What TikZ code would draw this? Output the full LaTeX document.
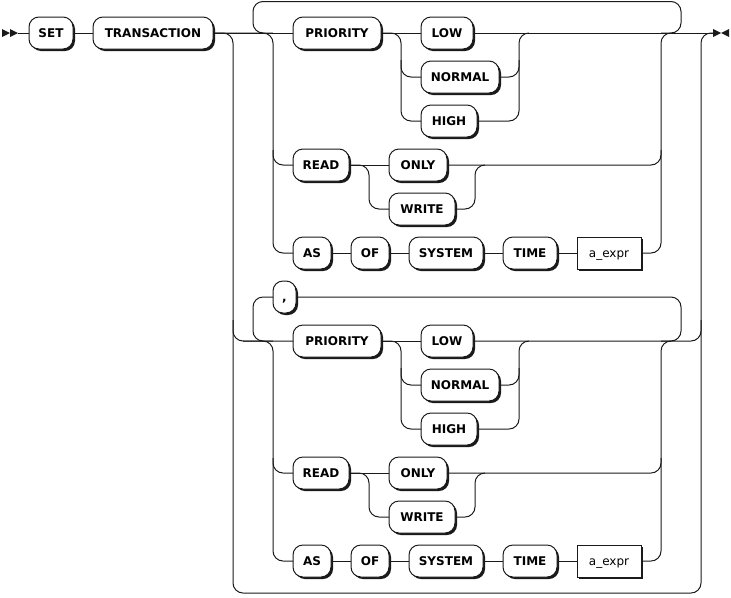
\documentclass[tikz,border=0pt]{standalone}
\usepackage{fontspec}
\newfontfamily\rrfam{DejaVu Sans}
\usetikzlibrary{shadows}
\definecolor{lc}{HTML}{1A1A1A}
\newcommand\rrbold{\rrfam\bfseries\fontsize{9pt}{11pt}\selectfont}
\newcommand\rrreg{\rrfam\fontsize{9pt}{11pt}\selectfont}
\tikzset{
  term/.style={draw=lc, line width=0.75pt, fill=white, rounded corners=7.5pt,
    minimum height=24pt, inner sep=0pt, outer sep=0pt, anchor=west,
    text height=6.5pt, text depth=0pt, font=\rrbold,
    general shadow={fill=lc, shadow xshift=1.5pt, shadow yshift=-1.5pt}},
  nonterm/.style={term, sharp corners, font=\rrreg},
  bw/.style={minimum width=#1*0.75pt},
  conn/.style={line width=0.75pt, draw=lc, rounded corners=7.5pt},
  marker/.style={fill=lc, draw=none},
}
\begin{document}
\begin{tikzpicture}[x=0.75pt,y=-0.75pt]
\useasboundingbox (0,0) rectangle (731,597);
% start / end markers
\fill[marker] (2,29) -- (10,33) -- (2,37) -- cycle;
\fill[marker] (10,29) -- (18,33) -- (10,37) -- cycle;
\coordinate (st) at (18,33);
\fill[marker] (713,29) -- (721,33) -- (713,37) -- cycle;
\fill[marker] (729,29) -- (721,33) -- (729,37) -- cycle;
\coordinate (en) at (713,33);
% head
\node[term, bw=44] (set) at (29,33) {SET};
\node[term, bw=120] (trans) at (93,33) {TRANSACTION};
% top group
\node[term, bw=88] (prio1) at (293,33) {PRIORITY};
\node[term, bw=52] (low1) at (421,33) {LOW};
\node[term, bw=78] (normal1) at (421,77) {NORMAL};
\node[term, bw=56] (high1) at (421,121) {HIGH};
\node[term, bw=56] (read1) at (293,165) {READ};
\node[term, bw=58] (only1) at (389,165) {ONLY};
\node[term, bw=66] (write1) at (389,209) {WRITE};
\node[term, bw=38] (as1) at (293,253) {AS};
\node[term, bw=38] (of1) at (351,253) {OF};
\node[term, bw=74] (sys1) at (409,253) {SYSTEM};
\node[term, bw=54] (time1) at (503,253) {TIME};
\node[nonterm, bw=64] (aexpr1) at (577,253) {a\_expr};
% bottom group
\node[term, bw=23] (comma) at (273,297) {,};
\node[term, bw=88] (prio2) at (293,341) {PRIORITY};
\node[term, bw=52] (low2) at (421,341) {LOW};
\node[term, bw=78] (normal2) at (421,385) {NORMAL};
\node[term, bw=56] (high2) at (421,429) {HIGH};
\node[term, bw=56] (read2) at (293,473) {READ};
\node[term, bw=58] (only2) at (389,473) {ONLY};
\node[term, bw=66] (write2) at (389,517) {WRITE};
\node[term, bw=38] (as2) at (293,561) {AS};
\node[term, bw=38] (of2) at (351,561) {OF};
\node[term, bw=74] (sys2) at (409,561) {SYSTEM};
\node[term, bw=54] (time2) at (503,561) {TIME};
\node[nonterm, bw=64] (aexpr2) at (577,561) {a\_expr};
% head connectors
\draw[conn] (st) -- (set.west);
\draw[conn] (set.east) -- (trans.west);
\draw[conn] (trans.east) -| (233,593) -| (701,33) -- (en);
% top group connectors
\draw[conn] (trans.east) -- (prio1.west);
\draw[conn] (273,33) -| (253,1.5) -| (681,33) -- (661,33);
\draw[conn] (trans.east) -| (273,253) -- (as1.west);
\draw[conn] (273,150) |- (read1.west);
\draw[conn] (prio1.east) -- (low1.west);
\draw[conn] (prio1.east) -| (401,121) -- (high1.west);
\draw[conn] (401,60) |- (normal1.west);
\draw[conn] (low1.east) -- (en);
\draw[conn] (high1.east) -| (519,33) -- (529,33);
\draw[conn] (normal1.east) -| (519,60);
\draw[conn] (read1.east) -- (only1.west);
\draw[conn] (read1.east) -| (369,209) -- (write1.west);
\draw[conn] (write1.east) -| (475,165) -- (485,165);
\draw[conn] (only1.east) -| (661,150);
\draw[conn] (as1.east) -- (of1.west);
\draw[conn] (of1.east) -- (sys1.west);
\draw[conn] (sys1.east) -- (time1.west);
\draw[conn] (time1.east) -- (aexpr1.west);
\draw[conn] (aexpr1.east) -| (661,33) -- (671,33);
% bottom group connectors
\draw[conn] (233,320) |- (prio2.west);
\draw[conn] (273,341) -| (253,297) -- (comma.west);
\draw[conn] (comma.east) -| (681,341) -- (661,341);
\draw[conn] (243,341) -| (273,561) -- (as2.west);
\draw[conn] (273,458) |- (read2.west);
\draw[conn] (prio2.east) -- (low2.west);
\draw[conn] (prio2.east) -| (401,429) -- (high2.west);
\draw[conn] (401,368) |- (normal2.west);
\draw[conn] (low2.east) -| (701,320);
\draw[conn] (high2.east) -| (519,341) -- (529,341);
\draw[conn] (normal2.east) -| (519,368);
\draw[conn] (read2.east) -- (only2.west);
\draw[conn] (read2.east) -| (369,517) -- (write2.west);
\draw[conn] (write2.east) -| (475,473) -- (485,473);
\draw[conn] (only2.east) -| (661,458);
\draw[conn] (as2.east) -- (of2.west);
\draw[conn] (of2.east) -- (sys2.west);
\draw[conn] (sys2.east) -- (time2.west);
\draw[conn] (time2.east) -- (aexpr2.west);
\draw[conn] (aexpr2.east) -| (661,341) -- (671,341);
\end{tikzpicture}
\end{document}
